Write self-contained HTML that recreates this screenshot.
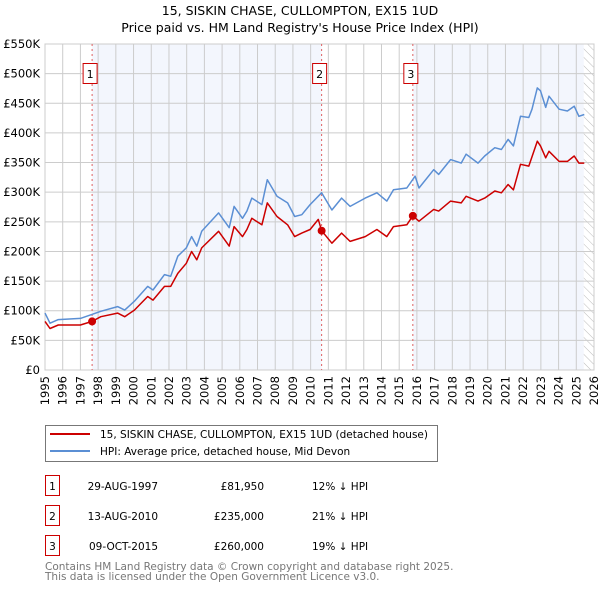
<!DOCTYPE html>
<html><head><meta charset="utf-8"><style>
body{margin:0;background:#fff;}
svg{display:block;font-family:"DejaVu Sans","Liberation Sans",sans-serif;}
</style></head><body>
<svg id="chart" width="600" height="590" xmlns="http://www.w3.org/2000/svg">
<defs>
<pattern id="hatch" width="6" height="6" patternUnits="userSpaceOnUse" patternTransform="rotate(-45)">
<line x1="0" y1="0" x2="0" y2="6" stroke="#bbb" stroke-width="1"/>
</pattern>
</defs>
<text x="300" y="15" text-anchor="middle" font-size="12.5">15, SISKIN CHASE, CULLOMPTON, EX15 1UD</text>
<text x="300" y="32" text-anchor="middle" font-size="12.5">Price paid vs. HM Land Registry's House Price Index (HPI)</text>
<g id="plot"></g>
<g>
<rect x="45.5" y="425.5" width="392" height="36" fill="#fff" stroke="#777"/>
<line x1="50" y1="434" x2="90" y2="434" stroke="#cc0000" stroke-width="2"/>
<text x="100" y="438" font-size="10.5">15, SISKIN CHASE, CULLOMPTON, EX15 1UD (detached house)</text>
<line x1="50" y1="451" x2="90" y2="451" stroke="#5b8fd4" stroke-width="2"/>
<text x="100" y="455" font-size="10.5">HPI: Average price, detached house, Mid Devon</text>
</g>
<g font-size="10.5">
<rect x="45.5" y="475.5" width="14" height="20" fill="none" stroke="#cc0000"/><text x="52.5" y="490" text-anchor="middle">1</text>
<text x="158" y="490" text-anchor="end">29-AUG-1997</text><text x="264" y="490" text-anchor="end">£81,950</text><text x="312" y="490">12% ↓ HPI</text>
<rect x="45.5" y="505.5" width="14" height="20" fill="none" stroke="#cc0000"/><text x="52.5" y="520" text-anchor="middle">2</text>
<text x="158" y="520" text-anchor="end">13-AUG-2010</text><text x="264" y="520" text-anchor="end">£235,000</text><text x="312" y="520">21% ↓ HPI</text>
<rect x="45.5" y="535.5" width="14" height="20" fill="none" stroke="#cc0000"/><text x="52.5" y="550" text-anchor="middle">3</text>
<text x="158" y="550" text-anchor="end">09-OCT-2015</text><text x="264" y="550" text-anchor="end">£260,000</text><text x="312" y="550">19% ↓ HPI</text>
</g>
<text x="45" y="570" font-size="10.5" fill="#777">Contains HM Land Registry data © Crown copyright and database right 2025.</text>
<text x="45" y="580" font-size="10.5" fill="#777">This data is licensed under the Open Government Licence v3.0.</text>
</svg>
<script>
const hpiYears=[1995,1995.28,1995.75,1997,1997.57,1998.15,1999.1,1999.5,2000.05,2000.8,2001.1,2001.75,2002.1,2002.5,2002.98,2003.28,2003.57,2003.85,2004.8,2005.4,2005.68,2006.15,2006.4,2006.68,2007.25,2007.55,2008.1,2008.7,2009.1,2009.5,2009.97,2010.62,2011.2,2011.75,2012.23,2013.08,2013.74,2014.3,2014.68,2015.43,2015.9,2016.12,2016.95,2017.23,2017.9,2018.5,2018.78,2019.45,2019.83,2020.4,2020.77,2021.15,2021.45,2021.85,2022.32,2022.5,2022.8,2022.98,2023.27,2023.46,2024.03,2024.5,2024.88,2025.15,2025.45];
const hpiValues=[96000,79000,85000,87000,93000,99000,107000,101000,116000,141000,135000,161000,158000,192000,206000,225000,209000,234000,265000,240000,276000,256000,268000,290000,279000,321000,293000,282000,259000,262000,279000,299000,270000,290000,276000,290000,299000,285000,304000,307000,327000,307000,338000,330000,355000,349000,364000,349000,361000,375000,372000,389000,378000,428000,426000,440000,476000,471000,443000,462000,440000,437000,445000,428000,431000];
const paidYears=[1995,1995.28,1995.75,1997,1997.66,1998.15,1999.1,1999.5,2000.05,2000.8,2001.1,2001.75,2002.1,2002.5,2002.98,2003.28,2003.57,2003.85,2004.8,2005.4,2005.68,2006.15,2006.4,2006.68,2007.25,2007.55,2008.1,2008.7,2009.1,2009.5,2009.97,2010.43,2010.62,2011.2,2011.75,2012.23,2013.08,2013.74,2014.3,2014.68,2015.43,2015.77,2016.12,2016.95,2017.23,2017.9,2018.5,2018.78,2019.45,2019.83,2020.4,2020.77,2021.15,2021.45,2021.85,2022.32,2022.8,2022.98,2023.27,2023.46,2024.03,2024.5,2024.88,2025.15,2025.45];
const paidValues=[82000,70000,76000,76000,81950,90000,96000,90000,101000,124000,118000,141000,141000,163000,180000,200000,186000,206000,234000,209000,242000,225000,237000,256000,245000,282000,259000,245000,225000,231000,237000,254000,235000,214000,231000,217000,225000,237000,225000,242000,245000,260000,251000,271000,268000,285000,282000,293000,285000,290000,302000,299000,313000,304000,347000,344000,386000,378000,358000,369000,352000,352000,361000,349000,349000];
const saleYears=[1997.66,2010.62,2015.77];
const salePrices=[81950,235000,260000];
const saleLabels=["1","2","3"];
const yTicks=[0,50000,100000,150000,200000,250000,300000,350000,400000,450000,500000,550000];
const yTickLabels=["£0","£50K","£100K","£150K","£200K","£250K","£300K","£350K","£400K","£450K","£500K","£550K"];
const xTicks=[1995,1996,1997,1998,1999,2000,2001,2002,2003,2004,2005,2006,2007,2008,2009,2010,2011,2012,2013,2014,2015,2016,2017,2018,2019,2020,2021,2022,2023,2024,2025,2026];
const dataEndYear=2025.42;

const L=45,R=594,T=44,B=370;
const xs=y=>L+(y-1995)/(2026-1995)*(R-L);
const ys=v=>B-v/550000*(B-T);
const NS="http://www.w3.org/2000/svg";
const g=document.getElementById('plot');
function mk(tag,attrs,parent){const e=document.createElementNS(NS,tag);for(const k in attrs)e.setAttribute(k,attrs[k]);(parent||g).appendChild(e);return e;}

const bg=mk('rect',{x:L,y:T,width:R-L,height:B-T,fill:'#fff'});


const bands=[[saleYears[0],saleYears[1]],[saleYears[2],dataEndYear]];
bands.forEach(b=>{
  const r=mk('rect',{x:xs(b[0]),y:T,width:xs(b[1])-xs(b[0]),height:B-T,fill:'#f3f6fd'});
  
  
});
const h=mk('rect',{x:xs(dataEndYear),y:T,width:R-xs(dataEndYear),height:B-T,fill:'url(#hatch)'});



yTicks.forEach((v,i)=>{
  const l=mk('line',{x1:L,x2:R,y1:ys(v),y2:ys(v),stroke:'#ccc','stroke-width':1});
  
  
  const t=mk('text',{x:40,y:ys(v)+4,'text-anchor':'end','font-size':11.5});
  
  
  t.textContent=yTickLabels[i];
});
xTicks.forEach(yr=>{
  const l=mk('line',{x1:xs(yr),x2:xs(yr),y1:T,y2:B,stroke:'#ccc','stroke-width':1});
  
  
  const t=mk('text',{x:0,y:0,'text-anchor':'end','font-size':11.5,transform:`translate(${xs(yr)+4},376) rotate(-90)`});
  
  
  t.textContent=yr;
});
const frame=mk('rect',{x:L,y:T,width:R-L,height:B-T,fill:'none',stroke:'#ccc'});



saleYears.forEach((yr,i)=>{
  const l=mk('line',{x1:xs(yr),x2:xs(yr),y1:T,y2:B,stroke:'#e06060','stroke-width':1,'stroke-dasharray':'2,3'});
  
  
});

const path=(xa,va)=>xa.map((x,i)=>(i?'L':'M')+xs(x).toFixed(1)+','+ys(va[i]).toFixed(1)).join('');
const hp=mk('path',{d:path(hpiYears,hpiValues),fill:'none',stroke:'#5b8fd4','stroke-width':1.5,'stroke-linejoin':'round'});


const pp=mk('path',{d:path(paidYears,paidValues),fill:'none',stroke:'#cc0000','stroke-width':1.5,'stroke-linejoin':'round'});



saleYears.forEach((yr,i)=>{
  const c=mk('circle',{cx:xs(yr),cy:ys(salePrices[i]),r:4,fill:'#cc0000'});
  
  
  const r=mk('rect',{x:xs(yr)-9,y:63.5,width:14,height:20,fill:'#fff',stroke:'#cc0000'});
  
  
  const t=mk('text',{x:xs(yr)-2,y:78,'text-anchor':'middle','font-size':11});
  
  
  t.textContent=saleLabels[i];
});
</script>
</body></html>
